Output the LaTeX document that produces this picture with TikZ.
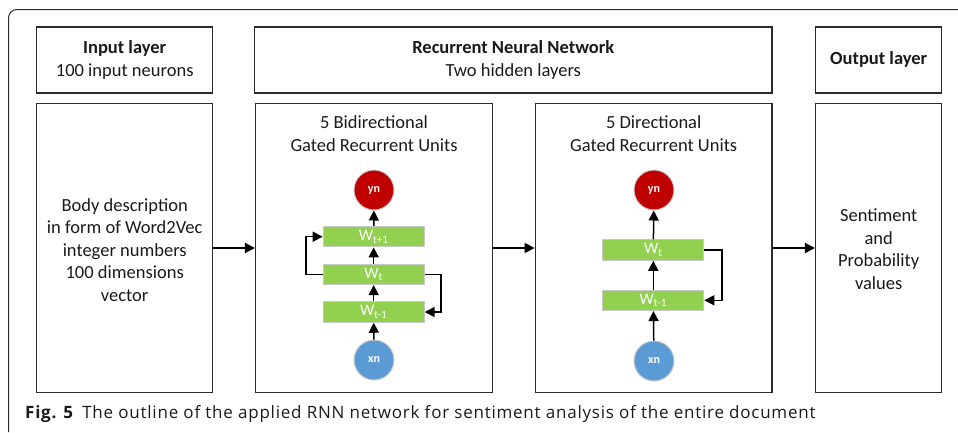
\documentclass[tikz,border=0pt]{standalone}
\usepackage{fontspec}
\setmainfont{Carlito}
\newfontfamily\capfont[LetterSpace=4.5]{Open Sans}
\usetikzlibrary{arrows.meta}
\definecolor{boxline}{HTML}{2B2B2B}
\definecolor{wgreen}{HTML}{92D050}
\definecolor{yred}{HTML}{C00000}
\definecolor{xblue}{HTML}{5B9BD5}
\definecolor{rimgray}{HTML}{C9C9C9}
\definecolor{txt}{HTML}{1A1A1A}
\begin{document}
\begin{tikzpicture}[x=1pt,y=-1pt,
  layerbox/.style={draw=boxline, line width=1.5pt, inner sep=0pt, align=center,
    text=txt, font=\fontsize{18.5}{22.5}\selectfont},
  bodytext/.style={align=center, text=txt, font=\fontsize{18.5}{22.5}\selectfont},
  conn/.style={draw=black, line width=1.5pt, -{Triangle[length=10pt,width=10pt]}},
  wbox/.style={fill=wgreen, draw=rimgray, line width=1pt, minimum width=101pt,
    minimum height=20.5pt, inner sep=0pt, text=white, font=\fontsize{16}{16}\selectfont},
  ycirc/.style={circle, fill=yred, draw=rimgray, line width=1pt, minimum size=40pt,
    inner sep=0pt, text=white, font=\fontsize{12}{13}\selectfont\bfseries},
  xcirc/.style={ycirc, fill=xblue}]
\useasboundingbox (0,0) rectangle (958,432);
% outer frame
\draw[boxline, line width=1pt] (8.5,432) -- (8.5,18) arc[start angle=180, end angle=270, radius=8.5] -- (958,9.5);

% header boxes
\node[layerbox, minimum width=176pt, minimum height=66pt] (inhead) at (124.7,59.8)
  {\textbf{Input layer}\\100 input neurons};
\node[layerbox, minimum width=517.5pt, minimum height=66pt] (rnnhead) at (513.3,59.8)
  {\textbf{Recurrent Neural Network}\\Two hidden layers};
\node[layerbox, minimum width=126pt, minimum height=66pt] (outhead) at (878.7,59.8)
  {\textbf{Output layer}};

% body boxes
\node[layerbox, minimum width=176pt, minimum height=289.4pt] (body) at (124.7,248) {};
\node[layerbox, minimum width=236.6pt, minimum height=289.4pt] (bidir) at (374,248) {};
\node[layerbox, minimum width=236.7pt, minimum height=289.4pt] (dir) at (653.7,248) {};
\node[layerbox, minimum width=126pt, minimum height=289.4pt] (sent) at (878.7,248) {};

\node[bodytext] (bodytxt) at (124.7,250)
  {Body description\\in form of Word2Vec\\integer numbers\\100 dimensions\\vector};
\node[bodytext] (senttxt) at (878.7,249)
  {Sentiment\\and\\Probability\\values};
\node[bodytext] (bidirtxt) at (374,133.5)
  {5 Bidirectional\\Gated Recurrent Units};
\node[bodytext] (dirtxt) at (653.7,133.5)
  {5 Directional\\Gated Recurrent Units};

% bidirectional GRU
\node[ycirc] (byn) at (374,190) {yn};
\node[wbox] (bwp) at (373.7,236.7) {W\textsubscript{t+1}};
\node[wbox] (bwt) at (373.7,274.3) {W\textsubscript{t}};
\node[wbox] (bwm) at (373.7,312) {W\textsubscript{t-1}};
\node[xcirc] (bxn) at (374,360) {xn};
\draw[conn] (bxn) -- (bwm);
\draw[conn] (bwm) -- (bwt);
\draw[conn] (bwt) -- (bwp);
\draw[conn] (bwp) -- (byn);
\draw[conn] (bwt.west) -- ++(-16.5,0) |- (bwp.west);
\draw[conn] (bwt.east) -- ++(16.5,0) |- (bwm.east);

% directional GRU
\node[ycirc] (dyn) at (654,190) {yn};
\node[wbox] (dwt) at (653.3,250) {W\textsubscript{t}};
\node[wbox] (dwm) at (653.3,300.3) {W\textsubscript{t-1}};
\node[xcirc] (dxn) at (654,361) {xn};
\draw[conn] (dxn) -- (dwm);
\draw[conn] (dwm) -- (dwt);
\draw[conn] (dwt) -- (dyn);
\draw[conn] (dwt.east) -- ++(17.5,0) |- (dwm.east);

% flow between boxes
\draw[conn] (body) -- (bidir);
\draw[conn] (bidir) -- (dir);
\draw[conn] (dir) -- (sent);

% caption
\node[anchor=base west, inner sep=0pt, text=txt] (cap) at (25,418)
  {\capfont\fontsize{17}{18}\selectfont\textbf{Fig. 5}\hspace{0.5em}The outline of the applied RNN network for sentiment analysis of the entire document};
\end{tikzpicture}
\end{document}
